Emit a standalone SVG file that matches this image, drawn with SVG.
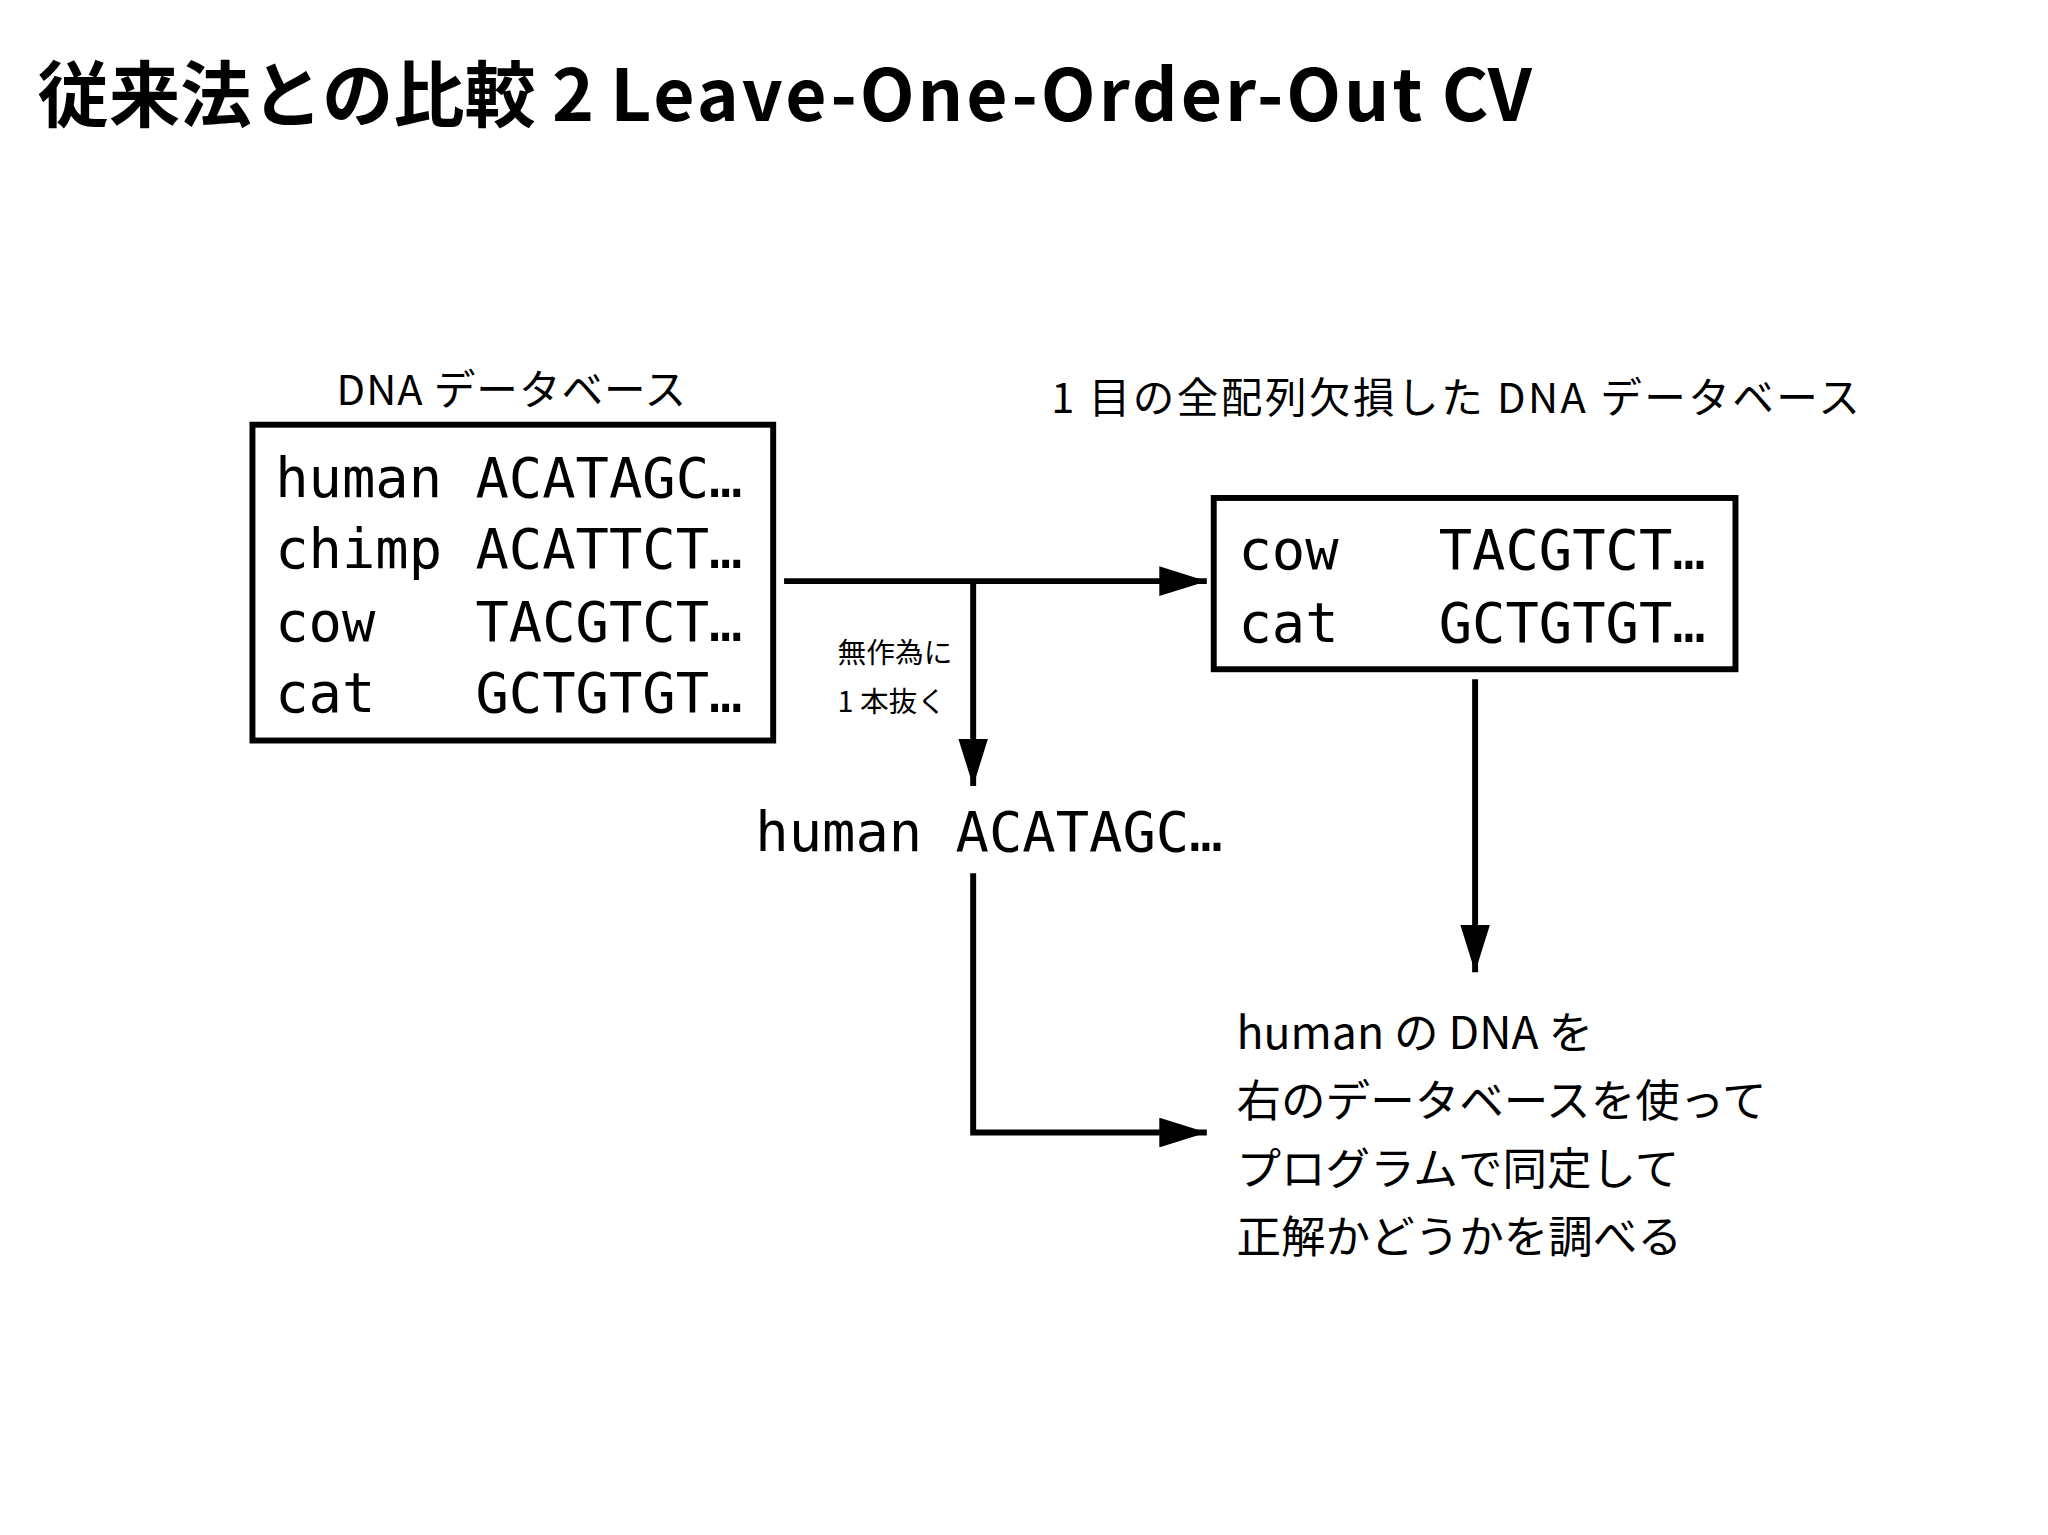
<svg xmlns="http://www.w3.org/2000/svg" width="2048" height="1535" viewBox="0 0 2048 1535">
<style>
.t{font-family:"Noto Sans CJK JP","Noto Sans",sans-serif;fill:#000}
.m{font-family:"DejaVu Sans Mono","Liberation Mono",monospace;font-size:56px;fill:#000;white-space:pre}
.box{fill:#fff;stroke:#000;stroke-width:6}
.ln{fill:none;stroke:#000;stroke-width:6}
</style>
<defs>
<marker id="a" viewBox="0 0 48 30" refX="48" refY="15" markerWidth="48" markerHeight="30" orient="auto" markerUnits="userSpaceOnUse"><path d="M0,0 L48,15 L0,30z" fill="#000"/></marker></defs>
<rect width="2048" height="1535" fill="#fff"/>
<g transform="scale(0.99)">
<text class="t" x="38" y="122" font-size="72" font-weight="bold">従来法との比較 2 <tspan letter-spacing="3">Leave-One-Order-Out</tspan>  CV</text>
<g id="db">
<text class="t" x="517" y="409" font-size="42" text-anchor="middle" letter-spacing="1">DNA データベース</text>
<rect class="box" x="255" y="429" width="526" height="319"/>
<text class="m" x="278" y="502" xml:space="preserve">human ACATAGC…</text>
<text class="m" x="278" y="574" xml:space="preserve">chimp ACATTCT…</text>
<text class="m" x="278" y="647" xml:space="preserve">cow   TACGTCT…</text>
<text class="m" x="278" y="719" xml:space="preserve">cat   GCTGTGT…</text>
</g>
<g id="db2">
<text class="t" x="1062" y="417" font-size="42" letter-spacing="2.5">1 目の全配列欠損した DNA データベース</text>
<rect class="box" x="1226" y="503" width="527" height="173"/>
<text class="m" x="1251" y="575" xml:space="preserve">cow   TACGTCT…</text>
<text class="m" x="1251" y="648" xml:space="preserve">cat   GCTGTGT…</text>
</g>
<g id="test">
<text class="m" x="763" y="860" xml:space="preserve">human ACATAGC…</text>
</g>
<g id="result" class="t" font-size="45">
<text x="1249" y="1060">human の DNA を</text>
<text x="1249" y="1128">右のデータベースを使って</text>
<text x="1249" y="1197">プログラムで同定して</text>
<text x="1249" y="1266">正解かどうかを調べる</text>
</g>
<g id="connectors">
<path class="ln" d="M792,587 H1219" marker-end="url(#a)"/>
<path class="ln" d="M983,587 V794" marker-end="url(#a)"/>
<path class="ln" d="M983,882 V1144 H1219" marker-end="url(#a)"/>
<path class="ln" d="M1490,686 V982" marker-end="url(#a)"/>
<text class="t" x="846" y="670" font-size="29">無作為に</text>
<text class="t" x="846" y="719" font-size="29">1 本抜く</text>
</g>
</g>
</svg>
